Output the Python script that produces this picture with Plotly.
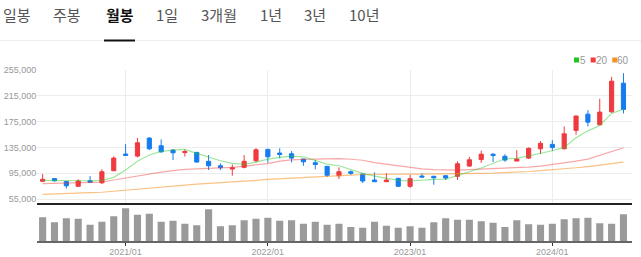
import plotly.graph_objects as go

months = ["2020/06","2020/07","2020/08","2020/09","2020/10","2020/11","2020/12",
          "2021/01","2021/02","2021/03","2021/04","2021/05","2021/06","2021/07","2021/08","2021/09","2021/10","2021/11","2021/12",
          "2022/01","2022/02","2022/03","2022/04","2022/05","2022/06","2022/07","2022/08","2022/09","2022/10","2022/11","2022/12",
          "2023/01","2023/02","2023/03","2023/04","2023/05","2023/06","2023/07","2023/08","2023/09","2023/10","2023/11","2023/12",
          "2024/01","2024/02","2024/03","2024/04","2024/05","2024/06","2024/07"]

open_ = [82700, 86900, 82400, 75000, 83600, 80500, 99000, 124700, 121600, 149300,
         137500, 130800, 127000, 127300, 113500, 106700, 101600, 104200, 114400, 131900,
         126200, 125200, 117000, 111300, 105800, 91300, 97500, 93900, 84700, 82100,
         87300, 75000, 90800, 90400, 91300, 90400, 106200, 116200, 124500, 121200,
         113900, 118500, 132800, 139600, 132800, 161200, 186200, 169800, 189800, 233900]
high = [93900, 87800, 82600, 85800, 90800, 101200, 121200, 140000, 149300, 150800,
        147300, 132400, 132000, 127500, 123200, 110400, 108800, 123200, 133900, 132800,
        133500, 129300, 117300, 115500, 106000, 104200, 99600, 95000, 96500, 95500,
        87500, 92400, 95000, 91300, 92400, 113500, 120500, 130000, 125900, 124500,
        130800, 135000, 144700, 146200, 167300, 184700, 192400, 209800, 243600, 249300]
low = [82500, 82400, 71600, 74800, 81000, 78500, 98800, 121600, 119600, 130800,
       126700, 115500, 120800, 111500, 100100, 100100, 91300, 102700, 111900, 111300,
       118100, 111900, 106700, 101200, 89300, 86200, 92400, 80100, 81600, 81600,
       73900, 72800, 88800, 77500, 84700, 84700, 105200, 111100, 112400, 112800,
       113900, 117000, 124700, 129800, 131900, 154400, 167300, 168800, 188200, 187300]
close = [85800, 83500, 75800, 83200, 81200, 97500, 118500, 122700, 142100, 132800,
         128200, 126700, 128500, 112400, 106700, 103600, 103600, 113500, 131300, 120500,
         124200, 118500, 112800, 108800, 91900, 97500, 95000, 83200, 82100, 84700,
         75000, 86700, 89300, 88200, 87800, 109800, 115900, 124500, 122400, 115500,
         117000, 133500, 141200, 135000, 155900, 183200, 173900, 189300, 237000, 193500]

ma5 = [84200, 83900, 83600, 83600, 83600, 84200, 88800, 100100, 113500, 123200,
       128900, 130800, 131900, 125800, 119600, 114400, 110400, 108800, 112400, 117000,
       119600, 121600, 120500, 114400, 109300, 106700, 101200, 95000, 90800, 87300,
       84200, 83200, 84700, 85800, 86200, 91300, 97500, 103200, 110400, 117500,
       118100, 122100, 126700, 129800, 135000, 149800, 160500, 168800, 187300, 193900]
ma20 = [79000, 79500, 79900, 80400, 81000, 81600, 84700, 87800, 91600, 94700,
        97000, 99300, 101200, 101900, 102700, 103500, 104200, 106200, 107800, 110100,
        113900, 115800, 116500, 117300, 117900, 117800, 116700, 115200, 111600, 109300,
        107000, 103900, 101900, 100800, 100100, 100100, 100800, 101600, 101900, 102400,
        103200, 104700, 106200, 108500, 110800, 113900, 117000, 123200, 128500, 134400]
ma60 = [62700, 63100, 63800, 64400, 65200, 65900, 67500, 69300, 70500, 72100,
        73900, 75800, 77800, 78500, 79500, 80400, 81600, 82800, 84200, 85600,
        86700, 87800, 88800, 89900, 90800, 91600, 92200, 93200, 93600, 93800,
        93900, 93900, 93900, 93900, 94200, 94500, 94800, 95000, 95300, 95900,
        96700, 97800, 99300, 100400, 101900, 103600, 105500, 107800, 110100, 112400]

volume = [71, 56, 68, 67, 49, 58, 74, 98, 79, 82, 58, 61, 52, 47, 95, 44, 47, 62, 67, 70,
          61, 62, 52, 58, 49, 52, 42, 40, 58, 46, 40, 44, 40, 56, 68, 64, 64, 59, 55, 42,
          62, 50, 49, 52, 65, 68, 70, 53, 52, 80]

year_ticks = ["2021/01", "2022/01", "2023/01", "2024/01"]
price_ticks = [55000, 95000, 135000, 175000, 215000, 255000]
tabs = ["일봉", "주봉", "월봉", "1일", "3개월", "1년", "3년", "10년"]
selected_tab = "월봉"
legend_items = [("5", "#1fc41f"), ("20", "#f03c3c"), ("60", "#f7901e")]

W, H = 641, 257
def px(x): return x / W
def py(y): return 1 - y / H

RED = "#ef3a3f"
BLUE = "#157cf0"
x_left, x_right = 37.3, 632
xrange = [-0.45, 49.72]

fig = go.Figure()
fig.add_trace(go.Candlestick(
    x=months, open=open_, high=high, low=low, close=close,
    increasing=dict(line=dict(color=RED, width=1), fillcolor=RED),
    decreasing=dict(line=dict(color=BLUE, width=1), fillcolor=BLUE),
    whiskerwidth=0, xaxis="x", yaxis="y", hoverinfo="skip"))
for vals, col in [(ma60, "rgba(247,144,30,0.55)"), (ma20, "rgba(240,60,60,0.45)"), (ma5, "rgba(40,200,40,0.45)")]:
    fig.add_trace(go.Scatter(x=months, y=vals, mode="lines", line=dict(color=col, width=1.2),
                             xaxis="x", yaxis="y", hoverinfo="skip"))
fig.add_trace(go.Bar(x=months, y=volume, marker=dict(color="#9a9a9a", line=dict(width=0)),
                     width=0.6, xaxis="x2", yaxis="y2", hoverinfo="skip"))

tickfont = dict(family="Liberation Sans, Arial", size=9, color="#999999")
fig.update_layout(
    width=W, height=H, margin=dict(l=0, r=0, t=0, b=0),
    paper_bgcolor="white", plot_bgcolor="white", showlegend=False,
    boxgap=0.5,
    xaxis=dict(domain=[px(x_left), px(x_right)], anchor="y", type="category",
               range=xrange, tickvals=year_ticks, showticklabels=False, ticks="",
               showgrid=True, gridcolor="#ececec", gridwidth=1, zeroline=False,
               showline=True, linecolor="#222222", linewidth=2,
               rangeslider=dict(visible=False), fixedrange=True),
    yaxis=dict(domain=[py(203), py(69.5)], anchor="x", range=[49300, 255000],
               tickvals=price_ticks, ticktext=[f"{v:,}" for v in price_ticks],
               tickfont=tickfont, showgrid=True, gridcolor="#ececec", gridwidth=1,
               zeroline=False, showline=False, ticks="", automargin=False),
    xaxis2=dict(domain=[px(x_left), px(x_right)], anchor="y2", type="category",
                range=xrange, tickvals=year_ticks, ticktext=year_ticks, tickfont=tickfont,
                ticks="outside", ticklen=3, tickcolor="#333333", tickwidth=1,
                ticklabelstandoff=-2,
                showgrid=False, zeroline=False, showline=True, linecolor="#666666",
                linewidth=2, automargin=False),
    yaxis2=dict(domain=[py(241), py(203)], anchor="x2", range=[0, 114],
                showticklabels=False, showgrid=False, zeroline=False, ticks=""),
)

# tabs
tab_centers = [17.2, 67.2, 119.7, 167.2, 219.2, 271.3, 315.3, 364.2]
for t, cx in zip(tabs, tab_centers):
    sel = t == selected_tab
    fig.add_annotation(x=px(cx), y=py(14.5), xref="paper", yref="paper", text=f"<b>{t}</b>" if sel else t,
                       showarrow=False, xanchor="center", yanchor="middle",
                       font=dict(family="Noto Sans CJK KR", size=15, color="#111111" if sel else "#555555"))
fig.add_shape(type="line", xref="paper", yref="paper", x0=0, x1=1, y0=py(40.5), y1=py(40.5),
              line=dict(color="#eeeeee", width=1))
fig.add_shape(type="rect", xref="paper", yref="paper", x0=px(104), x1=px(135), y0=py(41.5), y1=py(39.5),
              line=dict(width=0), fillcolor="#111111")

# legend
sq_x = [574, 590.7, 612.3]
txt_x = [583.3, 601.8, 623.3]
for (lab, col), sx, tx in zip(legend_items, sq_x, txt_x):
    fig.add_shape(type="rect", xref="paper", yref="paper", x0=px(sx), x1=px(sx + 5), y0=py(62.5), y1=py(57.5),
                  line=dict(width=0), fillcolor=col)
    fig.add_annotation(x=px(tx), y=py(60), xref="paper", yref="paper", text=lab, showarrow=False,
                       xanchor="center", yanchor="middle", font=dict(family="Liberation Sans, Arial", size=10, color="#999999"))

fig.write_html("out.html")
